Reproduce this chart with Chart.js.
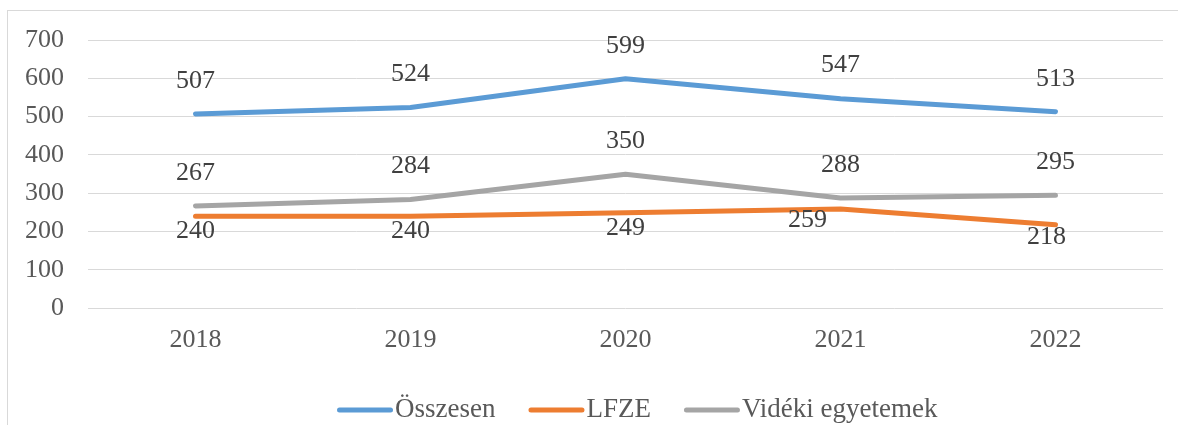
<!DOCTYPE html>
<html>
<head>
<meta charset="utf-8">
<script src="https://cdn.jsdelivr.net/npm/chart.js@4"></script>
<style>
  html, body { margin: 0; padding: 0; background: #fff; overflow: hidden; }
  #wrap { position: relative; width: 1178px; height: 425px; overflow: hidden; }
  #frame { position: absolute; left: 7px; top: 10px; width: 1200px; height: 450px; border: 1px solid #d9d9d9; box-sizing: border-box; }
  canvas { position: absolute; left: 0; top: 0; }
</style>
</head>
<body>
<div id="wrap">
  <div id="frame"></div>
  <canvas id="c" width="1178" height="425"></canvas>
</div>
<script>
const categories = ['2018', '2019', '2020', '2021', '2022'];
const osszesen = [507, 524, 599, 547, 513];
const lfze = [240, 240, 249, 259, 218];
const videki = [267, 284, 350, 288, 295];
const yTicks = [0, 100, 200, 300, 400, 500, 600, 700];

const FONT = "'Liberation Serif', 'Times New Roman', serif";

const labelPlugin = {
  id: 'valueLabels',
  afterDatasetsDraw(chart) {
    const ctx = chart.ctx;
    ctx.save();
    ctx.font = '26px ' + FONT;
    ctx.fillStyle = '#404040';
    ctx.textAlign = 'center';
    ctx.textBaseline = 'middle';
    chart.data.datasets.forEach((ds, di) => {
      const meta = chart.getDatasetMeta(di);
      const below = ds.labelPos === 'below';
      meta.data.forEach((pt, i) => {
        let dx = 0, dy = below ? 15 : -33;
        const n = (ds.labelNudge || {})[i];
        if (n) { dx += n[0]; dy += n[1]; }
        ctx.fillText(String(ds.data[i]), pt.x + dx, pt.y + dy);
      });
    });
    ctx.restore();
  }
};

const legendPlugin = {
  id: 'customLegend',
  afterDraw(chart) {
    const ctx = chart.ctx;
    ctx.save();
    ctx.font = '27px ' + FONT;
    ctx.textBaseline = 'middle';
    ctx.textAlign = 'left';
    let x = 337;
    const y = 410;
    chart.data.datasets.forEach(ds => {
      ctx.strokeStyle = ds.borderColor;
      ctx.lineWidth = 5;
      ctx.lineCap = 'round';
      ctx.beginPath();
      ctx.moveTo(x + 2.5, y);
      ctx.lineTo(x + 56 - 2.5, y);
      ctx.stroke();
      x += 58;
      ctx.fillStyle = '#595959';
      ctx.fillText(ds.label, x, y);
      x += ctx.measureText(ds.label).width + 33;
    });
    ctx.restore();
  }
};

function ds(label, data, color, labelPos, labelNudge) {
  return {
    label, data,
    borderColor: color, backgroundColor: color,
    borderWidth: 5, borderCapStyle: 'round', borderJoinStyle: 'round',
    pointRadius: 0, pointHoverRadius: 0, tension: 0, fill: false,
    labelPos, labelNudge
  };
}

new Chart(document.getElementById('c'), {
  type: 'line',
  data: {
    labels: categories,
    datasets: [
      ds('Összesen', osszesen, '#5b9bd5', 'above'),
      ds('LFZE', lfze, '#ed7d31', 'below', {3: [-33, -4], 4: [-9, -3]}),
      ds('Vidéki egyetemek', videki, '#a5a5a5', 'above')
    ]
  },
  options: {
    responsive: false,
    animation: false,
    events: [],
    layout: { padding: { left: 0, right: 15, top: 40, bottom: 66.7 } },
    plugins: { legend: { display: false }, tooltip: { enabled: false } },
    scales: {
      x: {
        offset: true,
        grid: { display: false, drawTicks: false },
        border: { display: false },
        ticks: { color: '#595959', font: { family: FONT, size: 26 }, padding: 16, maxRotation: 0 },
        afterFit(s) { s.height = 50; }
      },
      y: {
        min: 0, max: 700,
        afterBuildTicks(s) { s.ticks = yTicks.map(v => ({ value: v })); },
        grid: { color: '#d9d9d9', lineWidth: 1, drawTicks: false },
        border: { display: false },
        ticks: { color: '#595959', font: { family: FONT, size: 26 }, padding: 24 },
        afterFit(s) { s.width = 88; }
      }
    }
  },
  plugins: [labelPlugin, legendPlugin]
});
</script>
</body>
</html>
